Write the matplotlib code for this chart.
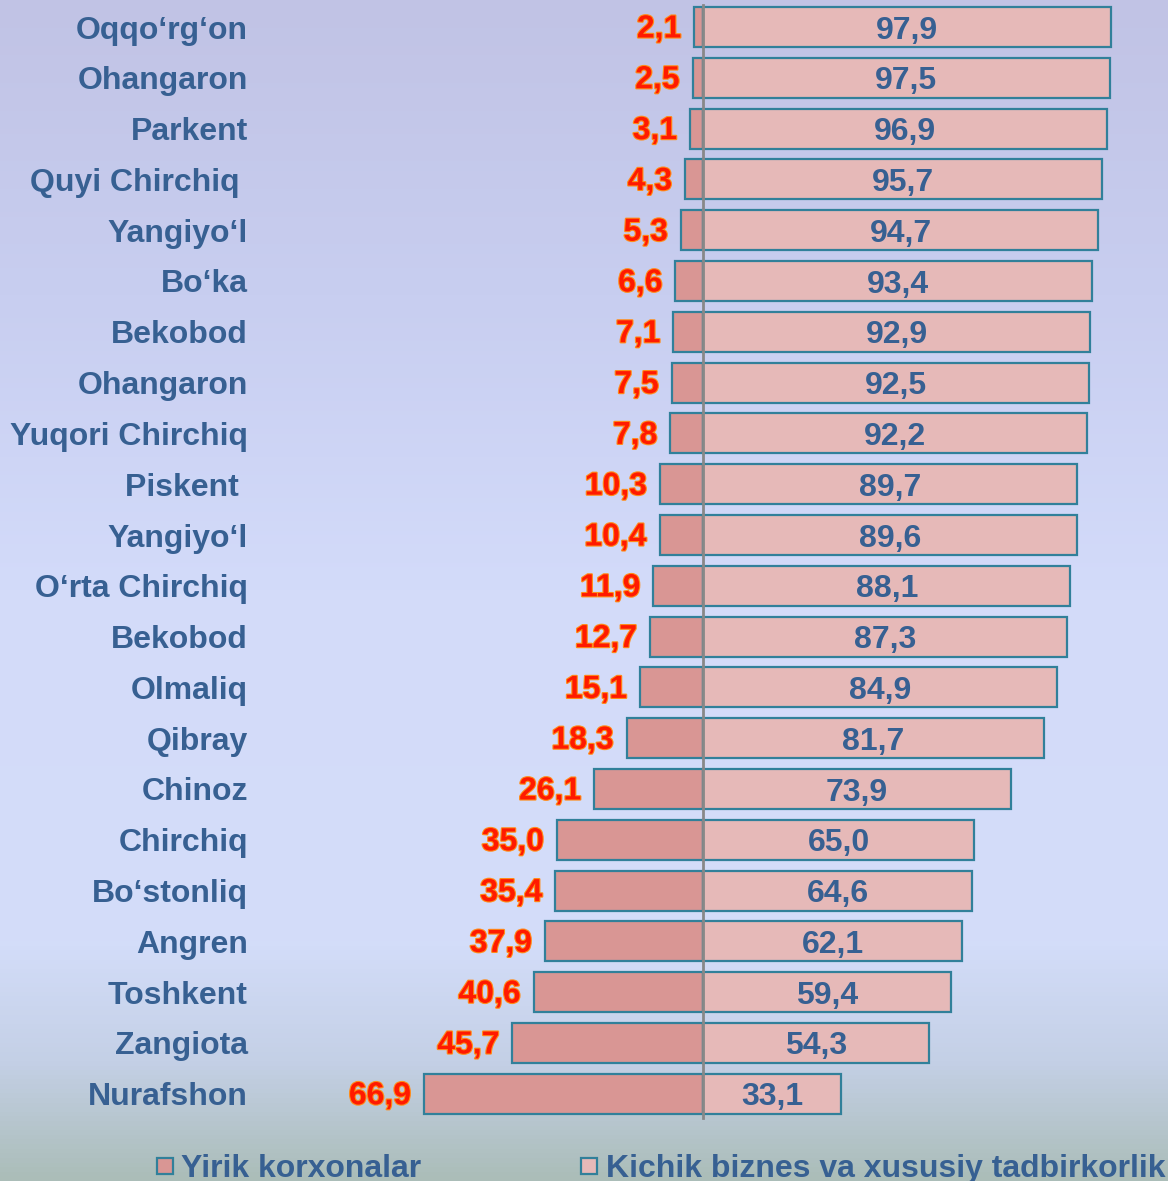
import matplotlib
matplotlib.use('Agg')
import matplotlib.pyplot as plt
import matplotlib.patheffects as pe
from matplotlib.colors import LinearSegmentedColormap
from matplotlib.patches import Rectangle
import numpy as np

plt.rcParams['font.family'] = ['Liberation Sans', 'DejaVu Sans']
plt.rcParams['font.weight'] = 'bold'

districts = ['Oqqo‘rg‘on', 'Ohangaron', 'Parkent', 'Quyi Chirchiq ', 'Yangiyo‘l', 'Bo‘ka',
             'Bekobod', 'Ohangaron', 'Yuqori Chirchiq', 'Piskent ', 'Yangiyo‘l',
             'O‘rta Chirchiq', 'Bekobod', 'Olmaliq', 'Qibray', 'Chinoz', 'Chirchiq',
             'Bo‘stonliq', 'Angren', 'Toshkent', 'Zangiota', 'Nurafshon']
large = [2.1, 2.5, 3.1, 4.3, 5.3, 6.6, 7.1, 7.5, 7.8, 10.3, 10.4,
         11.9, 12.7, 15.1, 18.3, 26.1, 35.0, 35.4, 37.9, 40.6, 45.7, 66.9]
small = [97.9, 97.5, 96.9, 95.7, 94.7, 93.4, 92.9, 92.5, 92.2, 89.7, 89.6,
         88.1, 87.3, 84.9, 81.7, 73.9, 65.0, 64.6, 62.1, 59.4, 54.3, 33.1]
legend_labels = ['Yirik korxonalar', 'Kichik biznes va xususiy tadbirkorlik']

W, H = 1168, 1181
fig = plt.figure(figsize=(W / 100, H / 100), dpi=100)

# background gradient
bg = fig.add_axes([0, 0, 1, 1])
cmap = LinearSegmentedColormap.from_list('bg', [
    (0.0, '#c1c3e5'), (0.25, '#c8cef0'), (0.5, '#d3dbfa'),
    (0.8, '#d3ddf9'), (0.9, '#c4d0e6'), (1.0, '#abbdb8')])
bg.imshow(np.linspace(0, 1, 256).reshape(-1, 1), aspect='auto', cmap=cmap,
          extent=[0, 1, 0, 1], origin='upper')
bg.axis('off')

ax = fig.add_axes([0, 0, 1, 1])
ax.patch.set_alpha(0)
ax.axis('off')

px = 4.17   # pixels per unit
x0 = 703    # pixel of zero
ax.set_xlim(-x0 / px, (W - x0) / px)
step = 50.8
top = 27
ax.set_ylim((H - top) / step, -top / step)

y = np.arange(len(districts))
edge = '#31809a'
ax.barh(y, [-v for v in large], height=0.79, color='#d99694', edgecolor=edge, linewidth=1.6, zorder=2)
ax.barh(y, small, height=0.79, color='#e6b9b8', edgecolor=edge, linewidth=1.6, zorder=2)
ax.plot([0, 0], [(5 - top) / step, (1118 - top) / step], color='#888888', lw=2, zorder=3)

blue = '#376092'
base = 11.5 / step   # baseline below bar centre
for i, name in enumerate(districts):
    ax.text(-(x0 - 248) / px, i + base, name, ha='right', va='baseline', fontsize=23,
            color=blue, fontweight='bold')
    ax.annotate(('%.1f' % large[i]).replace('.', ','), xy=(-large[i], i + base),
                xytext=(-13, 1), textcoords='offset pixels', ha='right', va='baseline',
                fontsize=23, fontweight='bold', color='#ff1a00',
                path_effects=[pe.withStroke(linewidth=1.6, foreground='#ff8c1a')])
    ax.text(small[i] / 2, i + base, ('%.1f' % small[i]).replace('.', ','),
            ha='center', va='baseline', fontsize=23, color=blue, fontweight='bold')

# legend
for (sx, tx), lab, col in zip([(157, 181), (581, 606)], legend_labels, ['#d99694', '#e6b9b8']):
    fig.patches.append(Rectangle((sx / W, 1 - 1174 / H), 16 / W, 16 / H,
                                 transform=fig.transFigure, facecolor=col,
                                 edgecolor=edge, linewidth=1.6))
    fig.text(tx / W, 1 - 1177 / H, lab, ha='left', va='baseline', fontsize=23,
             color=blue, fontweight='bold')

fig.savefig('out.png', dpi=100)
